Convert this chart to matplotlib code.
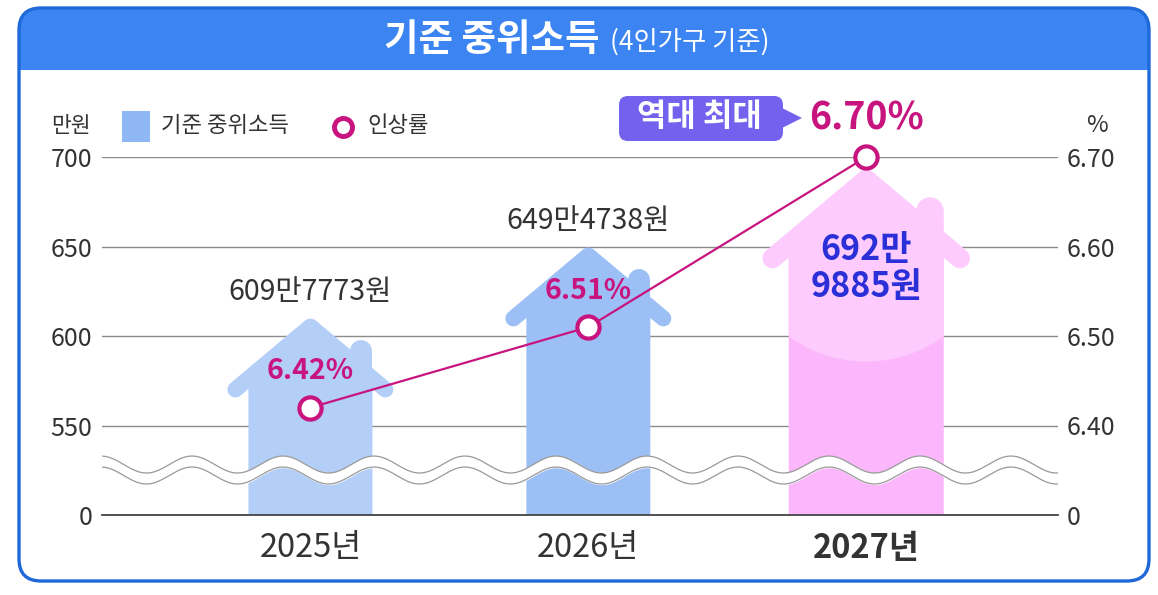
import numpy as np
import matplotlib
matplotlib.use('Agg')
import matplotlib.pyplot as plt
from matplotlib.patches import Polygon, Ellipse, FancyBboxPatch, Rectangle
from matplotlib.lines import Line2D
from matplotlib.transforms import ScaledTranslation

plt.rcParams['font.family'] = ['Noto Sans CJK KR', 'DejaVu Sans']

# data
years = ['2025년', '2026년', '2027년']
income = [609.7773, 649.4738, 692.9885]          # 만원
income_labels = ['609만7773원', '649만4738원', '692만\n9885원']
rate = [6.42, 6.51, 6.70]                       # %
rate_labels = ['6.42%', '6.51%', '6.70%']
left_ticks = [0, 550, 600, 650, 700]
right_ticks = [0, 6.40, 6.50, 6.60, 6.70]
right_ticklabels = ['0', '6.40', '6.50', '6.60', '6.70']

house_colors = ['#b3cef7', '#9cc0f6', '#fcb6fb']
house_light = '#fdcbfd'
line_col = '#c8147f'
txt_col = '#333333'
blue_txt = '#2b2fd8'


def broken(lo, step):
    # 0..lo squeezed into one tick step, linear above lo
    def fwd(v):
        v = np.asarray(v, float)
        return np.where(v < lo, v / lo, 1 + (v - lo) / step)

    def inv(p):
        p = np.asarray(p, float)
        return np.where(p < 1, p * lo, lo + (p - 1) * step)
    return fwd, inv


W, H = 1158, 595
fig = plt.figure(figsize=(W / 100, H / 100), dpi=100)

# background / frame in pixel coords
bg = fig.add_axes([0, 0, 1, 1])
bg.set_xlim(0, W)
bg.set_ylim(H, 0)
bg.axis('off')
bg.add_patch(FancyBboxPatch((19, 8), 1130, 573, boxstyle='round,pad=0,rounding_size=22',
                            fc='white', ec='none', zorder=1))
bg.add_patch(FancyBboxPatch((19, 8), 1130, 100, boxstyle='round,pad=0,rounding_size=22',
                            fc='#3b84f1', ec='none', zorder=2))
bg.add_patch(Rectangle((20, 70), 1128, 60, fc='white', ec='none', zorder=3))
bg.add_patch(FancyBboxPatch((19, 8), 1130, 573, boxstyle='round,pad=0,rounding_size=22',
                            fc='none', ec='#1e69d9', lw=2.4, zorder=4))
bg.text(599, 40, '기준 중위소득', ha='right', va='center', color='white',
        fontsize=27, fontweight='bold', zorder=5)
bg.text(610, 42, '(4인가구 기준)', ha='left', va='center', color='white',
        fontsize=19, zorder=5)

# legend
bg.text(71, 126, '만원', ha='center', va='center', fontsize=15.5, color=txt_col, zorder=5)
bg.add_patch(Rectangle((122, 111), 28, 31, fc='#8fb7f4', ec='none', zorder=5))
bg.text(161, 126, '기준 중위소득', ha='left', va='center', fontsize=16, color=txt_col, zorder=5)
bg.plot(343, 127, 'o', ms=13, mfc='white', mec=line_col, mew=3.5, zorder=5)
bg.text(367, 126, '인상률', ha='left', va='center', fontsize=16, color=txt_col, zorder=5)
bg.text(1097, 126, '%', ha='center', va='center', fontsize=17, color=txt_col, zorder=5)

# badge
badge = '#7462ef'
bg.add_patch(FancyBboxPatch((619, 96), 164, 45, boxstyle='round,pad=0,rounding_size=9',
                            fc=badge, ec='none', zorder=5))
bg.add_patch(Polygon([(780, 107), (802, 118), (780, 129)], closed=True, fc=badge, ec='none', zorder=5))
bg.text(699, 117, '역대 최대', ha='center', va='center', color='white',
        fontsize=23, fontweight='bold', zorder=6)

# main axes
ax = fig.add_axes([102 / W, 80 / H, 956 / W, 358 / H])
ax.set_facecolor('none')
ax.set_yscale('function', functions=broken(550, 50))
x = np.arange(len(years))

for i in range(len(years)):
    s = 1.25 if i == 2 else 1.0
    tr = ScaledTranslation(x[i], income[i], ax.transData)
    d, hw, k, Le = 8 * s, 62 * s, 0.84, 75 * s
    col = house_colors[i]
    top_col = house_light if i == 2 else col
    outline = Polygon([(0, -d), (hw, -d - hw * k), (hw, -3000), (-hw, -3000), (-hw, -d - hw * k)],
                      closed=True, transform=tr)
    bar = ax.bar(x[i], income[i], width=0.7, color=col, zorder=2)[0]
    bar.set_clip_path(outline)
    roof = Line2D([-Le, 0, Le], [-d - Le * k, -d, -d - Le * k], transform=tr, color=top_col,
                  lw=16 * s * 0.72, solid_capstyle='round', solid_joinstyle='round', zorder=2.1)
    ax.add_artist(roof)
    cx = hw - 11 * s
    chim = Line2D([cx, cx], [-33 * s, -90 * s], transform=tr, color=top_col,
                  lw=22 * s * 0.72, solid_capstyle='round', zorder=2.1)
    ax.add_artist(chim)
    if i == 2:
        glow = Ellipse((0, -85), 240, 214, transform=tr, fc=house_light, ec='none', zorder=2.2)
        ax.add_artist(glow)
        glow.set_clip_path(outline)

# axis break wave
xs = np.linspace(0, 1, 800)
px = xs * 956
y1 = 0.141 + 0.0237 * np.cos(2 * np.pi * (px - 90) / 91)
y2 = y1 - 0.0307
ax.fill_between(xs, y2, y1, color='white', transform=ax.transAxes, zorder=4)
ax.plot(xs, y1, color='#999999', lw=0.9, transform=ax.transAxes, zorder=4.1)
ax.plot(xs, y2, color='#999999', lw=0.9, transform=ax.transAxes, zorder=4.1)

# value labels
for i in range(len(years)):
    if i < 2:
        ax.annotate(income_labels[i], (x[i], income[i]), xytext=(0, 19), textcoords='offset points',
                    ha='center', va='center', fontsize=20.5, color=txt_col, zorder=6)
    else:
        ax.annotate(income_labels[i], (x[i], income[i]), xytext=(0, -71), textcoords='offset points',
                    ha='center', va='center', fontsize=24.5, fontweight='bold', color=blue_txt,
                    linespacing=1.05, zorder=6)

ax.set_axisbelow(True)
ax.grid(axis='y', color='#8c8c8c', lw=1)
ax.grid(axis='x', visible=False)
for sp in ['top', 'left', 'right']:
    ax.spines[sp].set_visible(False)
ax.spines['bottom'].set_color('#444444')
ax.spines['bottom'].set_linewidth(1.3)
ax.set_xticks(x, years)
ax.tick_params(axis='x', length=0, pad=12, labelsize=23.5, labelcolor=txt_col)
ax.get_xticklabels()[2].set_fontweight('bold')
ax.set_yticks(left_ticks, [str(t) for t in left_ticks])
ax.tick_params(axis='y', length=0, pad=7, labelsize=18, labelcolor=txt_col)
ax.yaxis.set_minor_locator(matplotlib.ticker.NullLocator())
ax.set_xlim(-0.75, 2.69)
ax.set_ylim(0, 700)

# rate line
ax2 = ax.twinx()
ax2.set_yscale('function', functions=broken(6.4, 0.1))
ax2.plot(x, rate, '-', color=line_col, lw=1.6, marker='o', ms=16, mfc='white',
         mec=line_col, mew=3, clip_on=False, zorder=6)
for i in range(len(years)):
    big = i == 2
    ax2.annotate(rate_labels[i], (x[i], rate[i]), xytext=(0, 28 if big else 26),
                 textcoords='offset points', ha='center', va='center',
                 fontsize=27 if big else 20.5, fontweight='bold', color=line_col, zorder=7)
for sp in ax2.spines.values():
    sp.set_visible(False)
ax2.set_yticks(right_ticks, right_ticklabels)
ax2.yaxis.set_minor_locator(matplotlib.ticker.NullLocator())
ax2.tick_params(axis='y', length=0, pad=6, labelsize=18, labelcolor=txt_col)
ax2.set_ylim(0, 6.70)
ax2.set_xlim(-0.75, 2.69)

fig.savefig('out.png', dpi=100)
